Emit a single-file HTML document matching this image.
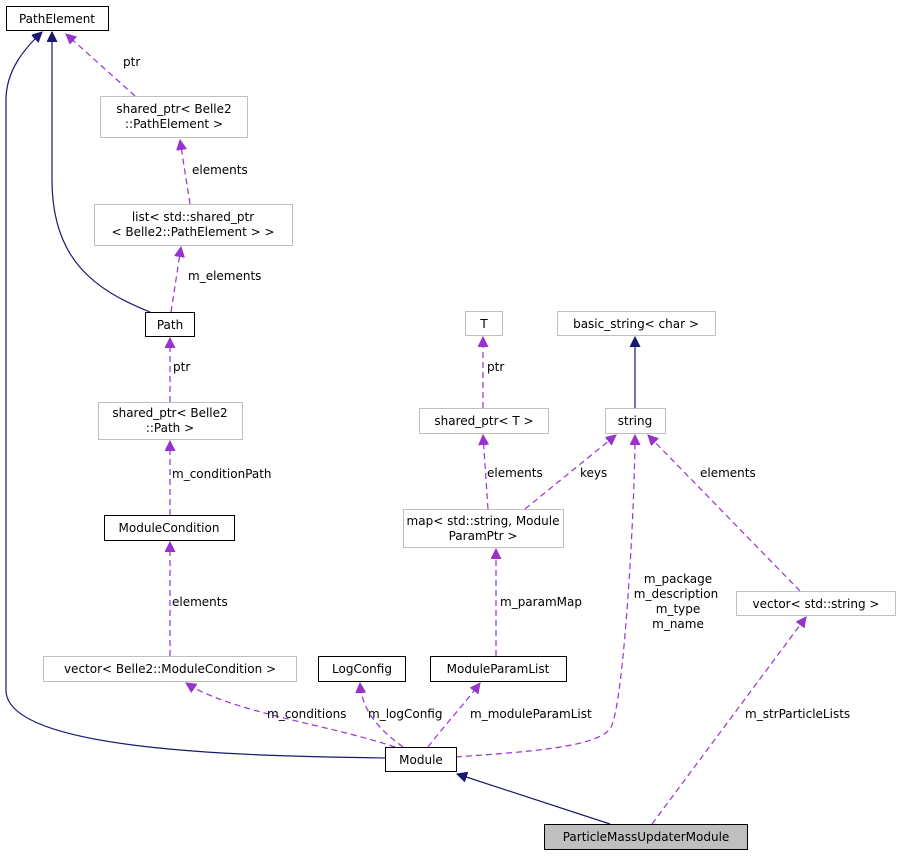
<!DOCTYPE html>
<html><head><meta charset="utf-8"><style>
html,body{margin:0;padding:0;background:#fff;}
svg text{font-family:"DejaVu Sans","Liberation Sans",sans-serif;font-size:12px;fill:#000;}
</style></head><body>
<svg width="901" height="856" viewBox="0 0 901 856" xmlns="http://www.w3.org/2000/svg">
<defs>
<marker id="p" markerWidth="12" markerHeight="12" refX="10" refY="5" orient="auto" markerUnits="userSpaceOnUse"><path d="M0,0 L10,5 L0,10 z" fill="#9a32cd" stroke="#9a32cd"/></marker>
<marker id="n" markerWidth="12" markerHeight="12" refX="10" refY="5" orient="auto" markerUnits="userSpaceOnUse"><path d="M0,0 L10,5 L0,10 z" fill="#191970" stroke="#191970"/></marker>
</defs>
<g fill="none" stroke-width="1.2">
<path d="M385,758 C250,756 6,752 6,690 L6,100 C6,70 25,48 42,32" stroke="#191970" marker-end="url(#n)"/>
<path d="M150,312 C95,290 52,260 52,180 L52,32" stroke="#191970" marker-end="url(#n)"/>
<path d="M635,408 L635,337" stroke="#191970" marker-end="url(#n)"/>
<path d="M610,824 L457,774" stroke="#191970" marker-end="url(#n)"/>
<g stroke="#9a32cd" stroke-dasharray="6,4">
<path d="M135,96 L66,34" marker-end="url(#p)"/>
<path d="M190,204 L180,140" marker-end="url(#p)"/>
<path d="M171,312 L181,247" marker-end="url(#p)"/>
<path d="M170,402 L170,338" marker-end="url(#p)"/>
<path d="M170,515 L170,441" marker-end="url(#p)"/>
<path d="M170,656 L170,542" marker-end="url(#p)"/>
<path d="M395,747 C330,725 230,712 186,683" marker-end="url(#p)"/>
<path d="M403,747 C380,730 362,712 360,683" marker-end="url(#p)"/>
<path d="M428,747 C445,725 465,703 480,683" marker-end="url(#p)"/>
<path d="M496,656 L496,549" marker-end="url(#p)"/>
<path d="M488,509 L483,435" marker-end="url(#p)"/>
<path d="M483,408 L483,337" marker-end="url(#p)"/>
<path d="M525,509 L616,435" marker-end="url(#p)"/>
<path d="M456,757 C520,752 605,748 612,725 C625,690 635,500 635,435" marker-end="url(#p)"/>
<path d="M800,591 L648,435" marker-end="url(#p)"/>
<path d="M652,824 L806,617" marker-end="url(#p)"/>
</g>
</g>
<g stroke-width="1">
<rect x="6.5" y="6.5" width="102" height="24" fill="#fff" stroke="#000"/>
<rect x="100.5" y="96.5" width="147" height="41" fill="#fff" stroke="#bfbfbf"/>
<rect x="94.5" y="204.5" width="198" height="41" fill="#fff" stroke="#bfbfbf"/>
<rect x="145.5" y="312.5" width="49" height="24" fill="#fff" stroke="#000"/>
<rect x="98.5" y="402.5" width="144" height="37" fill="#fff" stroke="#bfbfbf"/>
<rect x="104.5" y="515.5" width="130" height="25" fill="#fff" stroke="#000"/>
<rect x="43.5" y="656.5" width="253" height="25" fill="#fff" stroke="#bfbfbf"/>
<rect x="318.5" y="656.5" width="87" height="25" fill="#fff" stroke="#000"/>
<rect x="430.5" y="656.5" width="136" height="25" fill="#fff" stroke="#000"/>
<rect x="385.5" y="747.5" width="71" height="24" fill="#fff" stroke="#000"/>
<rect x="544.5" y="824.5" width="203" height="25" fill="#bfbfbf" stroke="#000"/>
<rect x="465.5" y="311.5" width="37" height="24" fill="#fff" stroke="#bfbfbf"/>
<rect x="557.5" y="311.5" width="158" height="24" fill="#fff" stroke="#bfbfbf"/>
<rect x="419.5" y="408.5" width="129" height="25" fill="#fff" stroke="#bfbfbf"/>
<rect x="605.5" y="408.5" width="60" height="25" fill="#fff" stroke="#bfbfbf"/>
<rect x="403.5" y="509.5" width="160" height="38" fill="#fff" stroke="#bfbfbf"/>
<rect x="736.5" y="591.5" width="159" height="24" fill="#fff" stroke="#bfbfbf"/>
</g>
<g text-anchor="middle">
<text x="57" y="23">PathElement</text>
<text x="174" y="113">shared_ptr&lt; Belle2</text>
<text x="174" y="128">::PathElement &gt;</text>
<text x="193" y="221">list&lt; std::shared_ptr</text>
<text x="193" y="236">&lt; Belle2::PathElement &gt; &gt;</text>
<text x="170" y="329">Path</text>
<text x="170" y="417">shared_ptr&lt; Belle2</text>
<text x="170" y="432">::Path &gt;</text>
<text x="169" y="532">ModuleCondition</text>
<text x="170" y="673">vector&lt; Belle2::ModuleCondition &gt;</text>
<text x="362" y="673">LogConfig</text>
<text x="498" y="673">ModuleParamList</text>
<text x="421" y="764">Module</text>
<text x="646" y="841">ParticleMassUpdaterModule</text>
<text x="484" y="328">T</text>
<text x="636" y="328">basic_string&lt; char &gt;</text>
<text x="484" y="425">shared_ptr&lt; T &gt;</text>
<text x="635" y="425">string</text>
<text x="483" y="525">map&lt; std::string, Module</text>
<text x="483" y="540">ParamPtr &gt;</text>
<text x="816" y="608">vector&lt; std::string &gt;</text>
<text x="678" y="583">m_package</text>
<text x="676" y="598">m_description</text>
<text x="678" y="613">m_type</text>
<text x="678" y="628">m_name</text>
</g>
<g>
<text x="123" y="66">ptr</text>
<text x="192" y="174">elements</text>
<text x="188" y="280">m_elements</text>
<text x="173" y="371">ptr</text>
<text x="172" y="478">m_conditionPath</text>
<text x="172" y="606">elements</text>
<text x="267" y="718">m_conditions</text>
<text x="368" y="718">m_logConfig</text>
<text x="470" y="718">m_moduleParamList</text>
<text x="500" y="606">m_paramMap</text>
<text x="487" y="477">elements</text>
<text x="487" y="371">ptr</text>
<text x="580" y="477">keys</text>
<text x="700" y="477">elements</text>
<text x="745" y="718">m_strParticleLists</text>
</g>
</svg>
</body></html>
